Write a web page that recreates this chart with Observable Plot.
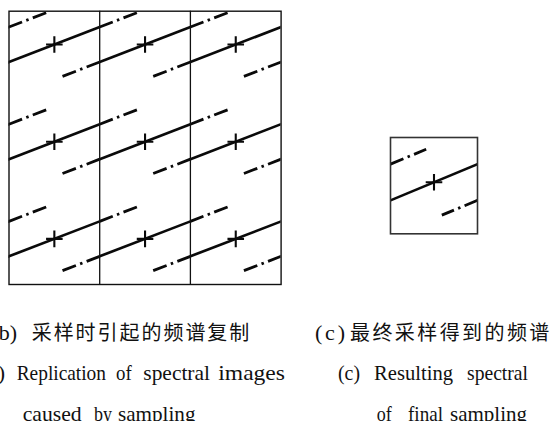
<!DOCTYPE html>
<html>
<head>
<meta charset="utf-8">
<script src="https://cdn.jsdelivr.net/npm/d3@7"></script>
<script src="https://cdn.jsdelivr.net/npm/@observablehq/plot@0.6"></script>
<style>
  html, body { margin: 0; padding: 0; background: #fff; }
  #page { position: relative; width: 553px; height: 421px; overflow: hidden; background: #fff; }
  #page > svg, #page > div { position: absolute; }
  #page svg { overflow: visible; }
</style>
</head>
<body>
<div id="page"></div>
<script>
// ---- data ----
// replica centres of the spectrum (column index, row index)
const bigColumns = [-2, -1, 0, 1, 2];      // -2 and 2 are the neighbours outside the frame
const bigRows = [-1, 0, 1];
const smallColumns = [-1, 0, 1];
const smallRows = [0];
const slope = 0.36;                         // tilt of the spectral line (y per x)
const extent = 0.41;                        // length of the dash-dot continuation
const columnBounds = [-0.5, 0.5];           // sampling cell boundaries in panel (b)

// caption texts
const capLeftCN = ["(b)", "采样时引起的频谱复制"];
const capLeftEN1 = ["(b)", "Replication", "of", "spectral", "images"];
const capLeftEN2 = ["caused", "by", "sampling"];
const capRightCN = ["(c)", "最终采样得到的频谱"];
const capRightEN1 = ["(c)", "Resulting", "spectral"];
const capRightEN2 = ["of", "final", "sampling"];

function replicas(cols, rows) {
  const out = [];
  for (const j of rows) for (const i of cols) out.push({i, j});
  return out;
}
function solid(d) { return {x1: d.i - 0.5, y1: d.j - 0.5 * slope, x2: d.i + 0.5, y2: d.j + 0.5 * slope}; }
function extRight(d) { return {x1: d.i + 0.5, y1: d.j + 0.5 * slope, x2: d.i + 0.5 + extent, y2: d.j + (0.5 + extent) * slope}; }
function extLeft(d) { return {x1: d.i - 0.5, y1: d.j - 0.5 * slope, x2: d.i - 0.5 - extent, y2: d.j - (0.5 + extent) * slope}; }

function panel(cols, rows, opts) {
  const reps = replicas(cols, rows);
  const solids = reps.map(solid);
  const exts = reps.flatMap(d => [extRight(d), extLeft(d)]);
  const lineStyle = {x1: "x1", y1: "y1", x2: "x2", y2: "y2", stroke: "#0a0a0a", strokeWidth: 2.6, clip: true};
  const marks = [
    Plot.link(solids, lineStyle),
    Plot.link(exts, {...lineStyle, strokeWidth: 2.8, strokeDasharray: "14,4.5,2.5,4.5,16,60"}),
    Plot.dot(reps, {x: "i", y: "j", symbol: "plus", r: 5.4, stroke: "#0a0a0a", strokeWidth: 2.1, clip: true})
  ];
  if (opts.rules) marks.push(Plot.ruleX(opts.rules, {stroke: "#111", strokeWidth: 1.3}));
  marks.push(Plot.frame({stroke: opts.frameStroke, strokeWidth: opts.frameWidth}));
  return Plot.plot({
    width: opts.width, height: opts.height,
    marginLeft: opts.ml, marginRight: opts.mr, marginTop: opts.mt, marginBottom: opts.mb,
    x: {domain: opts.xd, axis: null},
    y: {domain: opts.yd, axis: null},
    style: {background: "transparent", overflow: "visible"},
    marks
  });
}

const page = document.getElementById("page");

const big = panel(bigColumns, bigRows, {
  width: 283, height: 286, ml: 8.5, mr: 2.4, mt: 10.7, mb: 2,
  xd: [-1.5, 1.5], yd: [-1.47, 1.343], rules: columnBounds,
  frameStroke: "#111", frameWidth: 1.4
});
big.style.left = "0px"; big.style.top = "0px";
page.appendChild(big);

const small = panel(smallColumns, smallRows, {
  width: 100, height: 110, ml: 10, mr: 3, mt: 10, mb: 3.7,
  xd: [-0.5, 0.5], yd: [-0.513, 0.445], rules: null,
  frameStroke: "#333", frameWidth: 1.6
});
small.style.left = "380px"; small.style.top = "127px";
page.appendChild(small);

// ---- captions ----
const svg = d3.select(page).append("svg")
  .attr("width", 553).attr("height", 421)
  .style("left", "0px").style("top", "0px");

const serif = "Liberation Serif, Times New Roman, serif";
const cjk = "Noto Sans CJK SC, sans-serif";

// each word: left x, and (optionally) the width it spans in the reference
function words(list, xs, widths, y, opts = {}) {
  list.forEach((w, k) => {
    const t = svg.append("text")
      .attr("x", xs[k]).attr("y", y)
      .attr("font-family", opts.family || serif)
      .attr("font-size", opts.size || 22)
      .attr("fill", "#111")
      .text(w);
    if (widths && widths[k]) t.attr("textLength", widths[k]).attr("lengthAdjust", opts.adjust || "spacingAndGlyphs");
  });
}

// left captions
words([capLeftCN[0]], [-8.5], null, 340);
words([capLeftCN[1]], [31.7], [217.6], 340, {family: cjk, size: 20, adjust: "spacing"});
words(capLeftEN1, [-20.5, 16.7, 116, 143.3, 218.3], [null, 89.3, 15.7, 66.7, 66.7], 380);
words(capLeftEN2, [22.7, 94, 118], [59, 18, 77.5], 420.5);

// right captions
words([capRightCN[0]], [315], [30], 340, {adjust: "spacing"});
words([capRightCN[1]], [350], [199.3], 340, {family: cjk, size: 20, adjust: "spacing"});
words(capRightEN1, [338, 374, 467], [22, 79, 61], 380);
words(capRightEN2, [376.7, 408, 450], [15, 35, 77], 420.5);
</script>
</body>
</html>
